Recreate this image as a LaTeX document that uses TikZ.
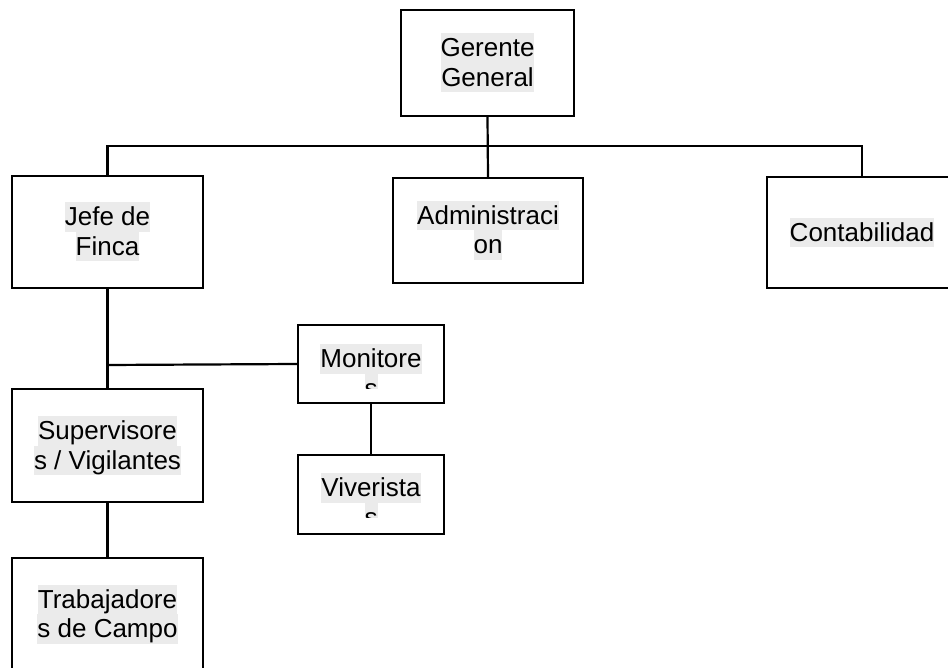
\documentclass[tikz,border=0pt]{standalone}
\usepackage{fontspec}
\setmainfont{Liberation Sans}
\usepackage{tikz}
\newcommand{\hl}[1]{{\setlength{\fboxsep}{0pt}\colorbox{hlgray}{\rule[-6pt]{0pt}{29.5pt}#1}}}

\begin{document}
\begin{tikzpicture}[x=1pt, y=-1pt,
    box/.style={draw=black, line width=2.4pt, rectangle, align=center, inner sep=0pt,
                font=\fontsize{26}{29.5}\selectfont},
    txt/.style={align=center, inner sep=0pt, font=\fontsize{26}{29.5}\selectfont},
    link/.style={line width=2.2pt, black}]
    % Define colors
    \definecolor{hlgray}{RGB}{235, 235, 235}

    % Picture frame
    \clip (0,0) rectangle (948,668);
    \fill[white] (0,0) rectangle (948,668);

    \coordinate (g0) at (487.5,63);
    \coordinate (j0) at (107.5,232);
    \coordinate (a0) at (488,230.5);
    \coordinate (c0) at (862,232.5);
    \coordinate (m0) at (371,364);
    \coordinate (v0) at (371,494.5);
    \coordinate (s0) at (107.5,445.5);
    \coordinate (t0) at (107.5,614);
    \coordinate (bus) at (487.5,146);
    \coordinate (split) at (107.5,365);

    % Draw the boxes
    \node[box, minimum width=173, minimum height=106] (gerente) at (g0) {\hl{Gerente}\\\hl{General}};
    \node[box, minimum width=191, minimum height=112] (jefe) at (j0) {\hl{Jefe de}\\\hl{Finca}};
    \node[box, minimum width=190, minimum height=105] (admin) at (a0) {\hl{Administraci}\\\hl{on}};
    \node[box, minimum width=190, minimum height=111] (conta) at (c0) {\hl{Contabilidad}};
    \node[box, minimum width=146, minimum height=78] (monit) at (m0) {};
    \node[box, minimum width=146, minimum height=79] (viver) at (v0) {};
    \node[box, minimum width=191, minimum height=113] (superv) at (s0) {\hl{Supervisore}\\\hl{s / Vigilantes}};
    \node[box, minimum width=191, minimum height=112] (trabaj) at (t0) {\hl{Trabajadore}\\\hl{s de Campo}};

    % Clipped texts
    \begin{scope}
        \clip (298,325) rectangle (444,388);
        \node[txt, anchor=north] (monittxt) at (371,344) {\hl{Monitore}\\\hl{s}};
    \end{scope}
    \begin{scope}
        \clip (298,455) rectangle (444,517);
        \node[txt, anchor=north] (vivertxt) at (371,473) {\hl{Viverista}\\\hl{s}};
    \end{scope}

    % Draw the connectors
    \draw[link] (gerente.south) -- (admin.north);
    \draw[link] (jefe.north) |- (bus) -| (conta.north);
    \draw[link] (jefe.south) -- (superv.north);
    \draw[link] (split) -- (monit.west);
    \draw[link] (monit.south) -- (viver.north);
    \draw[link] (superv.south) -- (trabaj.north);
\end{tikzpicture}
\end{document}
